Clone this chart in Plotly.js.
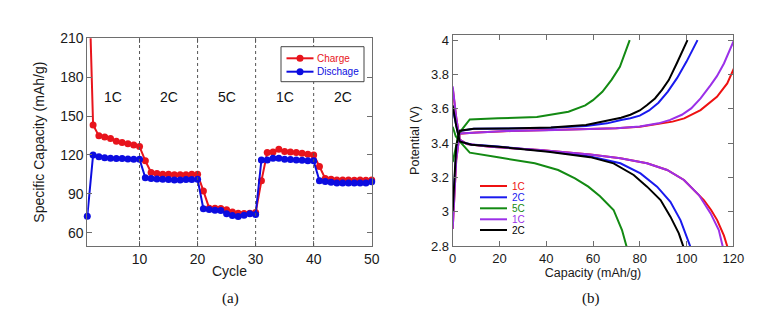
<!DOCTYPE html>
<html>
<head>
<meta charset="utf-8">
<script src="https://cdn.plot.ly/plotly-3.0.1.min.js"></script>
<style>html,body{margin:0;padding:0;background:#fff;}#chart{width:779px;height:330px;}</style>
</head>
<body>
<div id="chart"></div>
<script>
// ---------- (a) rate capability ----------
const cycles = [1,2,3,4,5,6,7,8,9,10,11,12,13,14,15,16,17,18,19,20,21,22,23,24,25,26,27,28,29,30,31,32,33,34,35,36,37,38,39,40,41,42,43,44,45,46,47,48,49,50];
const chargeCap = [300,143.1,134.7,133.9,132.6,130.5,129.5,128.7,127.7,126.4,
  115.4,106.4,105.6,105.1,105.1,104.6,104.6,104.6,105.1,105.1,
  92.2,78.9,78.9,78.6,77.6,76.0,75.0,74.8,75.0,75.5,
  100.0,121.8,122.3,124.4,122.6,122.3,121.8,121.3,120.5,120.0,
  111.0,101.7,101.2,100.7,100.7,100.7,100.5,100.7,100.5,100.7];
const dischargeCap = [72.7,120.0,118.5,117.9,117.4,117.2,117.2,116.9,116.7,116.7,
  102.3,101.7,101.5,101.2,101.0,100.7,100.7,101.0,101.0,101.2,
  78.4,77.8,77.3,77.1,74.6,73.3,72.4,73.5,74.5,74.0,
  116.1,116.1,117.4,117.4,116.7,116.4,116.1,115.9,115.4,115.4,
  100.0,99.4,98.9,98.4,98.4,98.4,98.4,98.4,98.4,99.2];
const rateLabels = ['1C','2C','5C','1C','2C'];
const rateBounds = [1,10,20,30,40,50];
const seriesNamesA = ['Charge','Dischage'];

// ---------- (b) voltage profiles ----------
const profileNames = ['1C','2C','5C','1C','2C'];
const chgCap = [
  [0,1.5,3,10,25,40,55,70,80,87,94,99,106,113,117.4,120.6,123],
  [0,1.5,3,9,23,42,57,66,72,76,80,84,88,92,96,100,104.7],
  [0,2.3,4,7.3,19.4,36,49.5,56.7,60,64,68,71.5,75.7],
  [0,1.5,3,10,23,40,55,70,80,88,93,98,102,106,110.3,113,116,120.3],
  [0,1.5,3,9,23,42,57,66,72,76,80,83,86.5,89.5,92.4,96,100.4]
];
const chgV = [
  [2.90,3.30,3.455,3.462,3.470,3.475,3.480,3.487,3.495,3.511,3.525,3.544,3.592,3.670,3.748,3.845,3.92],
  [2.99,3.35,3.470,3.483,3.485,3.490,3.500,3.515,3.535,3.545,3.560,3.590,3.635,3.700,3.780,3.875,4.00],
  [3.29,3.437,3.48,3.538,3.544,3.552,3.583,3.620,3.650,3.699,3.770,3.845,4.00],
  [2.90,3.30,3.456,3.462,3.470,3.475,3.480,3.487,3.497,3.515,3.535,3.565,3.602,3.660,3.738,3.790,3.864,4.00],
  [3.00,3.38,3.472,3.483,3.485,3.491,3.505,3.530,3.548,3.565,3.590,3.620,3.660,3.710,3.767,3.870,4.00]
];
const dchCap = [
  [0,1.5,3,6,16,37.4,58.8,71.7,83.1,91.7,98.9,103,107.4,110.5,113.1,116,117.6],
  [0,1.5,3,8,19.4,40.9,58.8,71.7,80.3,87.4,93.1,97.4,101,101.8],
  [0,1.3,3,7.3,19.4,35.1,45.1,52.3,58,63,68.8,72.4,74.5],
  [0,1.5,3,6,16,37.4,58.8,71.7,83.1,91.7,98.9,105.3,110.3,113.8,115.6],
  [0,1.5,3,8,19.4,40.9,58.8,68.8,77.4,83.1,88.9,93.1,96.7,98.8]
];
const dchV = [
  [3.72,3.55,3.42,3.395,3.379,3.359,3.334,3.311,3.282,3.243,3.185,3.130,3.068,3.010,2.951,2.860,2.79],
  [3.60,3.50,3.41,3.392,3.380,3.352,3.322,3.282,3.223,3.146,3.058,2.951,2.815,2.79],
  [3.495,3.44,3.41,3.344,3.317,3.282,3.243,3.194,3.146,3.090,3.010,2.893,2.79],
  [3.73,3.55,3.42,3.395,3.379,3.359,3.334,3.311,3.282,3.243,3.185,3.097,2.990,2.893,2.79],
  [3.62,3.50,3.41,3.390,3.379,3.350,3.318,3.282,3.214,3.146,3.068,2.971,2.874,2.79]
];

// ---------- styling ----------
const W = 779, H = 330;
const px = x => x / W;
const py = y => 1 - y / H;
const redA = '#e8141c', blueA = '#0c0ce0';
const profileColors = ['#ee1111','#1a1aee','#138a13','#9b30e8','#000000'];
const FONT = 'Liberation Sans, Arial, sans-serif';
const frame = '#6e6e6e';

const traces = [];
traces.push({x: cycles, y: chargeCap, xaxis:'x', yaxis:'y', mode:'lines+markers', name: seriesNamesA[0],
  line:{color:redA, width:2}, marker:{color:redA, size:7}, cliponaxis:false, showlegend:false});
traces.push({x: cycles, y: dischargeCap, xaxis:'x', yaxis:'y', mode:'lines+markers', name: seriesNamesA[1],
  line:{color:blueA, width:2}, marker:{color:blueA, size:7}, cliponaxis:false, showlegend:false});
for (let i = 0; i < profileNames.length; i++) {
  traces.push({x: chgCap[i], y: chgV[i], xaxis:'x2', yaxis:'y2', mode:'lines', name: profileNames[i],
    line:{color:profileColors[i], width:2}, showlegend:false});
  traces.push({x: dchCap[i], y: dchV[i], xaxis:'x2', yaxis:'y2', mode:'lines', name: profileNames[i],
    line:{color:profileColors[i], width:2}, showlegend:false});
}

const shapes = [];
const annotations = [];
// rate boundaries (dotted)
for (let i = 1; i < rateBounds.length - 1; i++) {
  shapes.push({type:'line', xref:'x', yref:'paper', x0:rateBounds[i], x1:rateBounds[i],
    y0:py(246), y1:py(38.3), line:{color:'#555', width:1, dash:'dot'}});
}
for (let i = 0; i < rateLabels.length; i++) {
  annotations.push({xref:'x', yref:'y', x:(rateBounds[i]+rateBounds[i+1])/2, y:165, text:rateLabels[i],
    xanchor:'center', yanchor:'middle', showarrow:false, font:{family:FONT, size:14, color:'#111'}});
}
// legend (a)
shapes.push({type:'rect', xref:'paper', yref:'paper', x0:px(281), x1:px(364), y0:py(81.7), y1:py(46.7),
  line:{color:'#444', width:1}, fillcolor:'#fff'});
const legA = [[seriesNamesA[0], redA, 58.3],[seriesNamesA[1], blueA, 71.7]];
legA.forEach(([t,c,yy]) => {
  shapes.push({type:'line', xref:'paper', yref:'paper', x0:px(286.5), x1:px(313.5), y0:py(yy), y1:py(yy), line:{color:c, width:2}});
  shapes.push({type:'circle', xref:'paper', yref:'paper', x0:px(296.5), x1:px(303.5), y0:py(yy+3.5), y1:py(yy-3.5), line:{color:c, width:0}, fillcolor:c});
  annotations.push({xref:'paper', yref:'paper', x:px(314.5), y:py(yy), xanchor:'left', yanchor:'middle', text:t,
    showarrow:false, font:{family:FONT, size:10, color:c}});
});
// legend (b)
const legBY = [186, 197.3, 208.3, 219.3, 230];
profileNames.forEach((t,i) => {
  shapes.push({type:'line', xref:'paper', yref:'paper', x0:px(480), x1:px(507), y0:py(legBY[i]), y1:py(legBY[i]), line:{color:profileColors[i], width:2}});
  annotations.push({xref:'paper', yref:'paper', x:px(510), y:py(legBY[i]), xanchor:'left', yanchor:'middle', text:t,
    showarrow:false, font:{family:FONT, size:10, color:profileColors[i]}});
});
// panel labels
annotations.push({xref:'paper', yref:'paper', x:px(230), y:py(298), xanchor:'center', yanchor:'middle', text:'(a)', showarrow:false, font:{family:'Liberation Serif, Times New Roman, serif', size:15, color:'#111'}});
annotations.push({xref:'paper', yref:'paper', x:px(591), y:py(298), xanchor:'center', yanchor:'middle', text:'(b)', showarrow:false, font:{family:'Liberation Serif, Times New Roman, serif', size:15, color:'#111'}});

const axBase = {showgrid:false, zeroline:false, showline:true, linecolor:frame, linewidth:1, mirror:'ticks',
  ticks:'inside', ticklen:5, tickcolor:frame, tickwidth:1};

const layout = {
  width: W, height: H, margin:{l:0,r:0,t:0,b:0}, paper_bgcolor:'#fff', plot_bgcolor:'#fff',
  font:{family:FONT, color:'#1a1a1a'},
  showlegend:false,
  xaxis: Object.assign({}, axBase, {domain:[px(87.3), px(371.7)], range:[1,50], tickvals:[10,20,30,40,50],
    tickfont:{size:14}, title:{text:'Cycle', font:{size:14}, standoff:0}, anchor:'y'}),
  yaxis: Object.assign({}, axBase, {domain:[py(246), py(38.3)], range:[49.7,210], tickvals:[60,90,120,150,180,210],
    tickfont:{size:14}, title:{text:'Specific Capacity (mAh/g)', font:{size:14}, standoff:12}, anchor:'x'}),
  xaxis2: Object.assign({}, axBase, {domain:[px(452.7), px(733.3)], range:[0,120], dtick:20, tick0:0,
    tickfont:{size:13}, title:{text:'Capacity (mAh/g)', font:{size:12.5}, standoff:2}, anchor:'y2'}),
  yaxis2: Object.assign({}, axBase, {domain:[py(246), py(35)], range:[2.8,4.03], tickvals:[2.8,3,3.2,3.4,3.6,3.8,4],
    ticktext:['2.8','3','3.2','3.4','3.6','3.8','4'],
    tickfont:{size:13}, title:{text:'Potential (V)', font:{size:12.5}, standoff:8}, anchor:'x2'}),
  shapes: shapes,
  annotations: annotations
};

Plotly.newPlot('chart', traces, layout, {staticPlot:true, displayModeBar:false});
</script>
</body>
</html>
